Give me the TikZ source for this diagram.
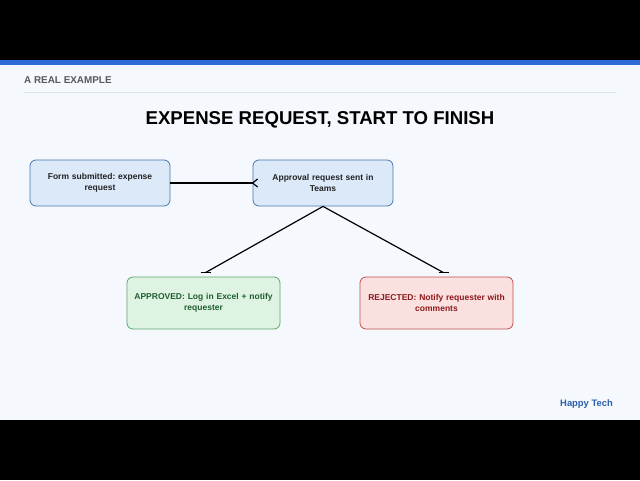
\documentclass[tikz,border=0pt]{standalone}
\usepackage{fontspec}
\setmainfont{Liberation Sans}
\frenchspacing
\usetikzlibrary{arrows.meta}
\definecolor{bg}{HTML}{F5F8FC}
\definecolor{band}{HTML}{2F6BD6}
\definecolor{brandc}{HTML}{2A5FB0}
\definecolor{bluefill}{HTML}{DCE9F9}
\definecolor{blueline}{HTML}{4A77B0}
\definecolor{greenfill}{HTML}{DFF3E3}
\definecolor{greenline}{HTML}{5AA86D}
\definecolor{greentext}{HTML}{1E5E2E}
\definecolor{redfill}{HTML}{FBE0E0}
\definecolor{redline}{HTML}{C0504D}
\definecolor{redtext}{HTML}{8B1A1A}
\definecolor{graytext}{HTML}{55595F}
\definecolor{boxtext}{HTML}{222222}
\definecolor{sepline}{HTML}{DDE2E8}
\tikzset{
  box/.style={rounded corners=6pt, line width=0.8pt, align=center, font=\bfseries\fontsize{8.5}{11}\selectfont, inner sep=0pt},
  bluebox/.style={box, fill=bluefill, draw=blueline, text=boxtext, minimum width=140pt, minimum height=46pt, text width=130pt},
  greenbox/.style={box, fill=greenfill, draw=greenline, text=greentext, minimum width=153pt, minimum height=52pt, text width=145pt},
  redbox/.style={box, fill=redfill, draw=redline, text=redtext, minimum width=153pt, minimum height=52pt, text width=145pt},
  conn/.style={line width=1.2pt, black},
}
\begin{document}
\begin{tikzpicture}[x=1pt,y=-1pt]
\useasboundingbox (0,0) rectangle (640,480);
\fill[black] (0,0) rectangle (640,60);
\fill[bg] (0,60) rectangle (640,420);
\fill[band] (0,60) rectangle (640,65);
\fill[black] (0,420) rectangle (640,480);
\node[anchor=west, text=graytext, font=\bfseries\fontsize{9.9}{11}\selectfont, inner sep=0pt] (hdr) at (24,80) {A REAL EXAMPLE};
\draw[sepline, line width=0.7pt] (24,92) -- (616,92);
\node[anchor=base, font=\bfseries\fontsize{18.6}{22}\selectfont, inner sep=0pt] (title) at (320,124.5) {EXPENSE REQUEST, START TO FINISH};
\node[bluebox] (form) at (100,183) {Form submitted: expense\\request};
\node[bluebox] (appr) at (323,183) {Approval request sent in\\Teams};
\node[greenbox] (ok) at (203.5,303) {APPROVED: Log in Excel + notify\\requester};
\node[redbox] (rej) at (436.5,303) {REJECTED: Notify requester with\\comments};
\node[anchor=east, text=brandc, font=\bfseries\fontsize{9.4}{11}\selectfont, inner sep=0pt] (brand) at (613,404) {Happy Tech};
\coordinate (okend) at ([xshift=2pt,yshift=4pt]ok.north);
\coordinate (rejend) at ([xshift=7pt,yshift=4pt]rej.north);
\draw[conn] (form.east) -- (appr.west);
\draw[conn] ([xshift=5pt,yshift=4pt]appr.west) -- (appr.west) -- ([xshift=5pt,yshift=-4pt]appr.west);
\draw[conn] (appr.south) -- (okend);
\draw[conn] (appr.south) -- (rejend);
\draw[conn] ([xshift=-5pt]okend) -- ([xshift=5pt]okend);
\draw[conn] ([xshift=-5pt]rejend) -- ([xshift=5pt]rejend);
\end{tikzpicture}
\end{document}
